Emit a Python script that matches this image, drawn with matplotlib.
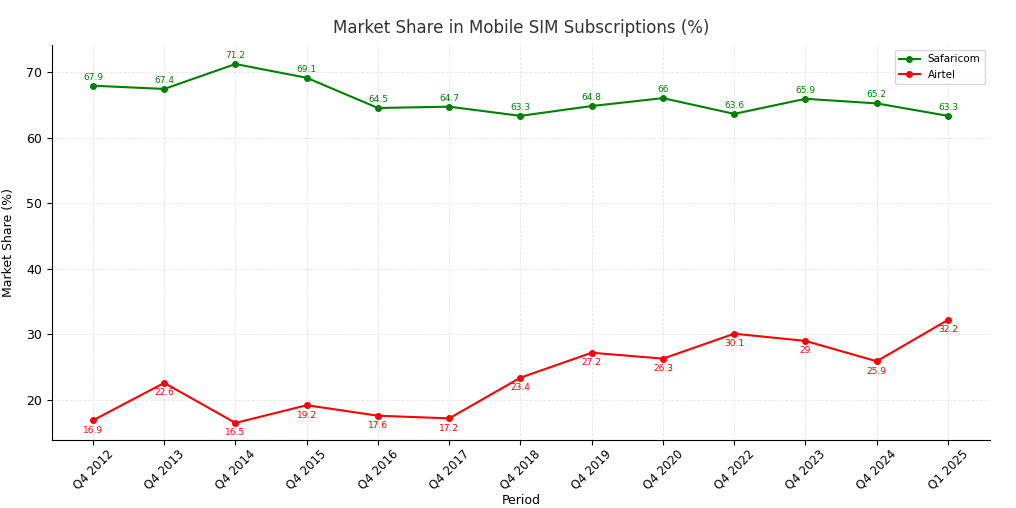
import matplotlib
matplotlib.use("Agg")
import matplotlib.pyplot as plt

periods = ["Q4 2012", "Q4 2013", "Q4 2014", "Q4 2015", "Q4 2016", "Q4 2017", "Q4 2018",
           "Q4 2019", "Q4 2020", "Q4 2022", "Q4 2023", "Q4 2024", "Q1 2025"]
safaricom = [67.9, 67.4, 71.2, 69.1, 64.5, 64.7, 63.3, 64.8, 66, 63.6, 65.9, 65.2, 63.3]
airtel = [16.9, 22.6, 16.5, 19.2, 17.6, 17.2, 23.4, 27.2, 26.3, 30.1, 29, 25.9, 32.2]

fig = plt.figure(figsize=(10.16, 5.08), dpi=100)
ax = fig.add_axes([52 / 1016, 68 / 508, 938 / 1016, 395 / 508])
x = list(range(len(periods)))
ax.plot(x, safaricom, "o-", color="green", markersize=4, linewidth=1.5, label="Safaricom")
ax.plot(x, airtel, "o-", color="red", markersize=4, linewidth=1.5, label="Airtel")
for i, v in enumerate(safaricom):
    ax.annotate(f"{v:g}", (i, v), xytext=(0, 3), textcoords="offset points",
                ha="center", va="bottom", fontsize=6.5, color="green")
for i, v in enumerate(airtel):
    ax.annotate(f"{v:g}", (i, v), xytext=(0, -4), textcoords="offset points",
                ha="center", va="top", fontsize=6.5, color="red")

ax.set_xticks(x)
ax.set_xticklabels(periods, rotation=45)
ax.set_xlim(-0.575, 12.59)
ax.set_ylim(13.9, 74.1)
ax.set_yticks([20, 30, 40, 50, 60, 70])
ax.grid(True, color="#e6e6e6", linestyle="--", linewidth=0.6)
ax.spines["top"].set_visible(False)
ax.spines["right"].set_visible(False)
ax.set_title("Market Share in Mobile SIM Subscriptions (%)", fontsize=12, color="#333333", pad=9)
ax.set_xlabel("Period", fontsize=9, labelpad=1)
ax.set_ylabel("Market Share (%)", fontsize=9, labelpad=8)
ax.tick_params(axis="x", labelsize=8.5, pad=2)
ax.tick_params(axis="y", labelsize=9)
ax.legend(loc="upper right", fontsize=7.5)
fig.savefig("out.png", dpi=100)
